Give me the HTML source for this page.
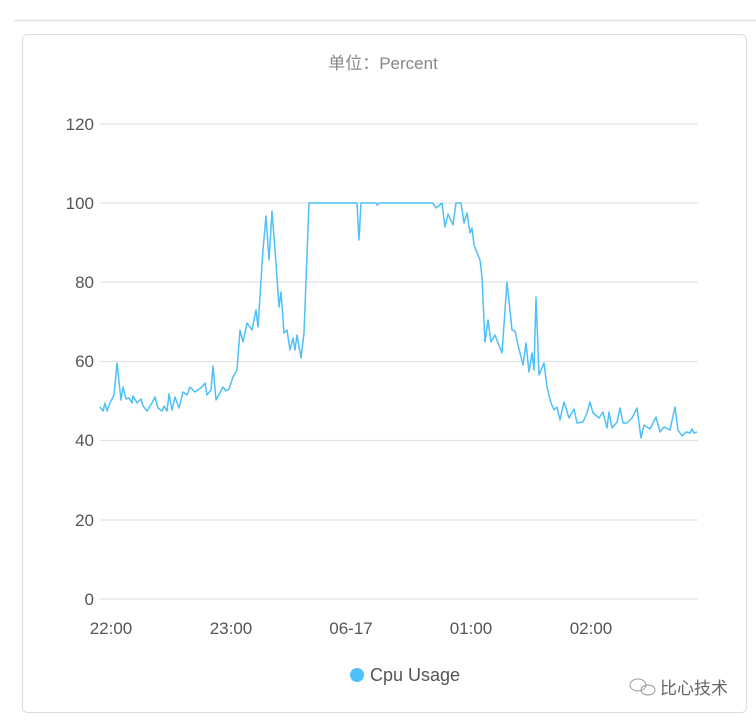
<!DOCTYPE html>
<html><head><meta charset="utf-8"><style>
body{margin:0;background:#fff;width:756px;height:720px;overflow:hidden;font-family:"Liberation Sans","Noto Sans CJK SC",sans-serif}
</style></head><body>
<svg width="756" height="720" xmlns="http://www.w3.org/2000/svg" style="position:absolute;left:0;top:0">
<line x1="14" y1="20.5" x2="756" y2="20.5" stroke="#e0e0e0" stroke-width="1.5"/>
<rect x="22.5" y="34.5" width="724" height="678" rx="5" fill="#fff" stroke="#ddd"/>
<text x="383" y="69" text-anchor="middle" font-size="17" fill="#888" font-family="Liberation Sans,Noto Sans CJK SC,sans-serif">单位：Percent</text>
<g stroke="#e3e3e3" stroke-width="1.2">
<line x1="100" x2="698" y1="124" y2="124"/><line x1="100" x2="698" y1="203" y2="203"/>
<line x1="100" x2="698" y1="282" y2="282"/><line x1="100" x2="698" y1="361.5" y2="361.5"/>
<line x1="100" x2="698" y1="440.5" y2="440.5"/><line x1="100" x2="698" y1="520" y2="520"/>
<line x1="100" x2="698" y1="599" y2="599"/></g>
<g font-size="17" fill="#555" text-anchor="end">
<text x="94" y="130">120</text><text x="94" y="209">100</text><text x="94" y="288">80</text>
<text x="94" y="367">60</text><text x="94" y="446">40</text><text x="94" y="526">20</text><text x="94" y="605">0</text></g>
<g font-size="17" fill="#555" text-anchor="middle">
<text x="111" y="634">22:00</text><text x="231" y="634">23:00</text><text x="351" y="634">06-17</text>
<text x="471" y="634">01:00</text><text x="591" y="634">02:00</text></g>
<polyline fill="none" stroke="#4dc0fb" stroke-width="1.5" stroke-linejoin="round" points="100,407 103,411 105,403 107,411 110,403 114,395 117,363 121,400 123,387 126,399 129,398 132,403 133,396 137,403 141,399 143,406 147,411 152,403 155,397 158,408 162,411 164,406 167,411 169,394 172,410 175,397 179,408 183,392 187,395 190,387 195,392 202,387 205,383 207,395 211,390 213,366 216,400 223,387 226,391 229,389 233,377 237,370 240,330 243,342 247,323 252,330 256,310 258,327 263,250 266,216 269,260 272,211 276,263 279,307 281,292 284,333 287,330 290,350 293,338 295,350 297,335 301,358 304,333 309,203 357,203 359,240 361,203 376,203 377,205 380,203 433,203 436,208 442,203 445,227 448,214 453,225 456,203 461,203 464,223 467,213 470,233 472,228 474,245 480,260 482,277 485,342 488,320 491,342 495,335 502,353 507,282 512,330 515,331 518,345 523,365 526,343 529,372 532,353 534,370 536,297 539,375 544,363 547,387 551,403 554,410 557,407 560,420 564,402 569,418 574,409 577,423 583,422 587,413 590,402 593,413 599,418 603,412 607,428 609,412 612,428 617,422 620,408 623,423 627,423 632,418 637,408 641,438 644,425 650,429 656,417 660,432 664,427 670,430 675,407 678,430 682,436 686,432 690,433 692,429 694,433 697,432"/>
<circle cx="357" cy="675" r="7" fill="#4dc0fb"/>
<text x="370" y="681" font-size="18" fill="#555">Cpu Usage</text>
<g fill="none" stroke="#999" stroke-width="1"><ellipse cx="638" cy="685" rx="8" ry="6"/><ellipse cx="648" cy="690" rx="7" ry="5"/></g>
<text x="660" y="694" font-size="17" fill="#666" font-family="Noto Sans CJK SC,sans-serif">比心技术</text>
</svg>
</body></html>
